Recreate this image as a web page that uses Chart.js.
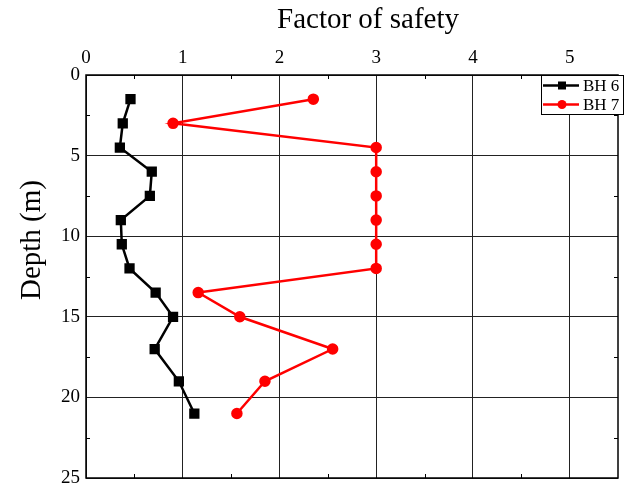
<!DOCTYPE html>
<html>
<head>
<meta charset="utf-8">
<script src="https://cdn.jsdelivr.net/npm/chart.js@4/dist/chart.umd.min.js"></script>
<style>
  body { margin: 0; background: #fff; }
  #wrap { width: 626px; height: 486px; }
</style>
</head>
<body>
<div id="wrap"><canvas id="myChart" width="626" height="486"></canvas></div>
<script>
// depth of each reading (m)
var depths = [1.5, 3, 4.5, 6, 7.5, 9, 10.5, 12, 13.5, 15, 17, 19, 21];
// factor of safety per borehole
var bh6 = [0.46, 0.38, 0.35, 0.68, 0.66, 0.36, 0.37, 0.45, 0.72, 0.90, 0.71, 0.96, 1.12];
var bh7 = [2.35, 0.90, 3, 3, 3, 3, 3, 3, 1.16, 1.59, 2.55, 1.85, 1.56];
var seriesNames = ['BH 6', 'BH 7'];
var xTicks = [0, 1, 2, 3, 4, 5];
var yTicks = [0, 5, 10, 15, 20, 25];
var xTitle = 'Factor of safety';
var yTitle = 'Depth (m)';

var serif = '"Liberation Serif", "Times New Roman", serif';

function pts(vals) {
  return vals.map(function (v, i) { return { x: v, y: depths[i] }; });
}

// box around plot with inward minor ticks
var framePlugin = {
  id: 'frame',
  afterDatasetsDraw: function (chart) {
    var c = chart.ctx, a = chart.chartArea;
    var sx = chart.scales.x, sy = chart.scales.y;
    c.save();
    c.strokeStyle = '#000';
    c.lineWidth = 1.5;
    c.strokeRect(a.left, a.top, a.right - a.left, a.bottom - a.top);
    c.lineWidth = 1;
    c.beginPath();
    for (var v = 0.5; v < 5.5; v += 1) {
      var px = Math.round(sx.getPixelForValue(v)) + 0.5;
      c.moveTo(px, a.top); c.lineTo(px, a.top + 4);
      c.moveTo(px, a.bottom); c.lineTo(px, a.bottom - 4);
    }
    for (var d = 2.5; d < 25; d += 5) {
      var py = Math.round(sy.getPixelForValue(d)) + 0.5;
      c.moveTo(a.left, py); c.lineTo(a.left + 4, py);
      c.moveTo(a.right, py); c.lineTo(a.right - 4, py);
    }
    c.stroke();
    c.restore();
  }
};

// axis titles (the originals sit a bit off-centre)
var titlePlugin = {
  id: 'titles',
  afterDraw: function (chart) {
    var c = chart.ctx, a = chart.chartArea;
    c.save();
    c.fillStyle = '#000';
    c.font = '29px ' + serif;
    c.textAlign = 'center';
    c.textBaseline = 'alphabetic';
    c.fillText(xTitle, 368, 28);
    c.translate(40, a.top + 165);
    c.rotate(-Math.PI / 2);
    c.fillText(yTitle, 0, 0);
    c.restore();
  }
};

// legend box in top right corner
var legendPlugin = {
  id: 'boxLegend',
  afterDraw: function (chart) {
    var c = chart.ctx, a = chart.chartArea;
    var left = a.right - 77, top = a.top;
    c.save();
    c.fillStyle = '#fff';
    c.fillRect(left, top, 82, 39);
    c.strokeStyle = '#000';
    c.lineWidth = 1;
    c.strokeRect(left + 0.5, top + 0.5, 82, 39);
    chart.data.datasets.forEach(function (ds, i) {
      var y = top + 10.5 + i * 19;
      c.strokeStyle = ds.borderColor;
      c.lineWidth = 2.5;
      c.beginPath();
      c.moveTo(left + 2, y); c.lineTo(left + 38, y);
      c.stroke();
      c.fillStyle = ds.borderColor;
      if (ds.pointStyle === 'rect') {
        c.fillRect(left + 17, y - 4, 8, 8);
      } else {
        c.beginPath(); c.arc(left + 21, y, 4.5, 0, Math.PI * 2); c.fill();
      }
      c.fillStyle = '#000';
      c.font = '17px ' + serif;
      c.textBaseline = 'middle';
      c.fillText(ds.label, left + 42, y + 1);
    });
    c.restore();
  }
};

var ctx = document.getElementById('myChart').getContext('2d');
var myChart = new Chart(ctx, {
  type: 'scatter',
  data: {
    datasets: [
      {
        label: seriesNames[0],
        data: pts(bh6),
        showLine: true,
        borderColor: '#000000',
        backgroundColor: '#000000',
        borderWidth: 2.5,
        pointStyle: 'rect',
        pointRadius: 5.5,
        pointHoverRadius: 5.5
      },
      {
        label: seriesNames[1],
        data: pts(bh7),
        showLine: true,
        borderColor: '#ff0000',
        backgroundColor: '#ff0000',
        borderWidth: 2.5,
        pointStyle: 'circle',
        pointRadius: 4.5,
        pointHoverRadius: 4.5
      }
    ]
  },
  options: {
    responsive: false,
    animation: false,
    // right padding is negative to cancel space chart.js keeps for the labels
    layout: { padding: { left: 0, top: 0, right: -4, bottom: 8 } },
    plugins: {
      legend: { display: false },
      tooltip: { enabled: false }
    },
    scales: {
      x: {
        type: 'linear',
        position: 'top',
        min: 0,
        max: 5.5,
        afterFit: function (s) {
          s.height = 75;
          s.paddingLeft = 0; s.paddingRight = 0;
        },
        afterBuildTicks: function (s) {
          s.ticks = xTicks.map(function (v) { return { value: v }; });
        },
        ticks: {
          color: '#000',
          font: { family: serif, size: 19 },
          padding: 6,
          maxRotation: 0
        },
        grid: { color: '#222', lineWidth: 1, drawTicks: false },
        border: { display: false }
      },
      y: {
        type: 'linear',
        reverse: true,
        min: 0,
        max: 25,
        afterFit: function (s) {
          s.width = 86;
          s.paddingTop = 0; s.paddingBottom = 0;
        },
        afterBuildTicks: function (s) {
          s.ticks = yTicks.map(function (v) { return { value: v }; });
        },
        ticks: {
          color: '#000',
          font: { family: serif, size: 19 },
          padding: 6
        },
        grid: { color: '#222', lineWidth: 1, drawTicks: false },
        border: { display: false }
      }
    }
  },
  plugins: [framePlugin, titlePlugin, legendPlugin]
});
</script>
</body>
</html>
